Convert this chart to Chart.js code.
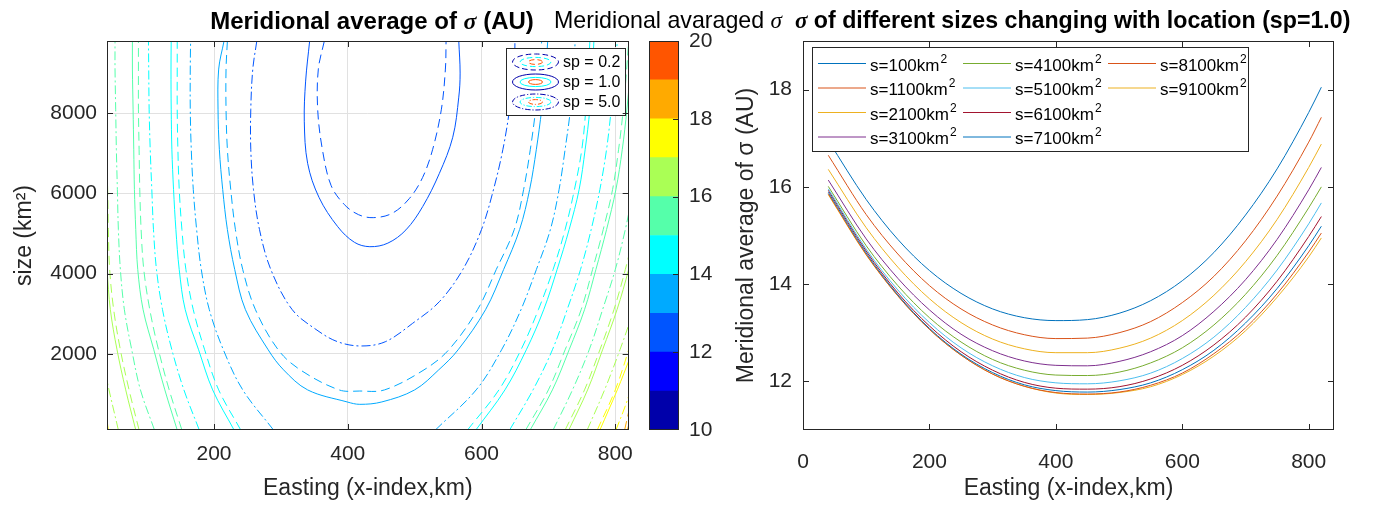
<!DOCTYPE html>
<html>
<head>
<meta charset="utf-8">
<script src="https://cdn.jsdelivr.net/npm/chart.js@4.4.0/dist/chart.umd.min.js"></script>
<style>
  html, body { margin: 0; padding: 0; background: #fff; }
  #wrap { position: relative; width: 1373px; height: 508px; overflow: hidden; font-family: "Liberation Sans", Arial, sans-serif; }
  canvas { position: absolute; top: 0; }
  .title { position: absolute; white-space: nowrap; color: #000; font-size: 24px; line-height: 1; z-index: 2; }
  .sig { font-family: "Liberation Serif", serif; font-style: italic; }
</style>
</head>
<body>
<div id="wrap">
  <canvas id="cLeft" width="645" height="508" style="left:0"></canvas>
  <canvas id="cBar" width="75" height="508" style="left:640px"></canvas>
  <canvas id="cRight" width="658" height="508" style="left:715px"></canvas>
  <div class="title" style="left:0; width:744px; text-align:center; top:9px; font-weight:bold;">Meridional average of <span class="sig">σ</span> (AU)</div>
  <div class="title" style="left:554px; top:9px; font-size:23.2px;">Meridional avaraged <span class="sig">σ</span>&nbsp; <b><span class="sig">σ</span> of different sizes changing with location (sp=1.0)</b></div>
</div>
<script>
// right panel: meridional average of sigma vs easting, sp = 1.0
const eastings = [40, 100, 150, 200, 250, 300, 350, 400, 450, 500, 550, 600, 650, 700, 750, 800, 820];
const sizes = [100, 1100, 2100, 3100, 4100, 5100, 6100, 7100, 8100, 9100];
const sigma100  = [16.95, 15.74, 14.92, 14.28, 13.81, 13.49, 13.31, 13.25, 13.27, 13.40, 13.66, 14.07, 14.65, 15.42, 16.37, 17.53, 18.05];
const sigma1100 = [16.65, 15.43, 14.62, 13.97, 13.49, 13.16, 12.96, 12.88, 12.89, 13.00, 13.23, 13.62, 14.16, 14.89, 15.81, 16.92, 17.43];
const sigma2100 = [16.36, 15.16, 14.35, 13.70, 13.21, 12.87, 12.67, 12.59, 12.59, 12.68, 12.89, 13.25, 13.77, 14.46, 15.33, 16.40, 16.88];
const sigma3100 = [16.14, 14.93, 14.12, 13.47, 12.97, 12.63, 12.42, 12.33, 12.32, 12.41, 12.61, 12.94, 13.44, 14.09, 14.92, 15.94, 16.40];
const sigma4100 = [16.01, 14.79, 13.97, 13.31, 12.81, 12.45, 12.23, 12.13, 12.12, 12.19, 12.38, 12.69, 13.16, 13.79, 14.59, 15.57, 16.00];
const sigma5100 = [15.96, 14.72, 13.88, 13.21, 12.69, 12.32, 12.08, 11.97, 11.95, 12.01, 12.17, 12.47, 12.91, 13.52, 14.29, 15.24, 15.67];
const sigma6100 = [15.93, 14.68, 13.82, 13.14, 12.61, 12.23, 11.98, 11.86, 11.84, 11.89, 12.05, 12.33, 12.75, 13.32, 14.06, 14.98, 15.39];
const sigma7100 = [15.89, 14.64, 13.78, 13.09, 12.56, 12.18, 11.93, 11.81, 11.78, 11.83, 11.97, 12.24, 12.64, 13.20, 13.91, 14.79, 15.19];
const sigma8100 = [15.86, 14.61, 13.76, 13.07, 12.54, 12.15, 11.90, 11.77, 11.74, 11.78, 11.92, 12.17, 12.57, 13.10, 13.80, 14.66, 15.05];
const sigma9100 = [15.84, 14.60, 13.76, 13.07, 12.54, 12.15, 11.90, 11.76, 11.73, 11.77, 11.89, 12.14, 12.52, 13.04, 13.73, 14.56, 14.95];
const seriesColors = ["#0072BD", "#D95319", "#EDB120", "#7E2F8E", "#77AC30", "#4DBEEE", "#A2142F", "#0072BD", "#D95319", "#EDB120"];

// left panel: contour lines [level, x0, y0, x1, y1, ...] (easting km, size km2)
const contourLevels = [12, 13, 14, 15, 16, 17, 18];
const levelColors = ["#0055ff", "#00aaff", "#00ffff", "#55ffaa", "#aaff55", "#ffff00", "#ffaa00"];
const sp02Lines = [
  [12, [365,9800, 356,9100, 355,8100, 362,7100, 375,6200, 395,5720, 416,5470, 438,5395, 466,5500, 492,5870, 512,6400, 527,7100, 540,8100, 546,9100, 547,9800]],
  [13, [220,9800, 218,9100, 218,8100, 220,7100, 225,6100, 232,5100, 243,4100, 262,3100, 296,2100, 329,1600, 387,1100, 418,1072, 455,1100, 514,1600, 551,2100, 594,3100, 622,4100, 649,5100, 663,6100, 673,7100, 681,8100, 687,9100, 690,9800]],
  [14, [240,100, 207,1100, 186,2100, 169,3100, 158,4100, 152,5100, 148,6100, 146,7100, 145,8100, 145,9100, 145,9800]],
  [14, [579,100, 626,1100, 659,2100, 685,3100, 707,4100, 725,5100, 739,6100, 750,7100, 756,8100, 760,9100, 762,9800]],
  [15, [152,100, 133,1100, 117,2100, 104,3100, 95,4100, 91,5100, 89,6100, 88,7100, 87,8100, 87,9100, 87,9800]],
  [15, [666,100, 700,1100, 725,2100, 749,3100, 766,4100, 782,5100, 796,6100, 805,7100, 812,8100, 817,9100, 820,9800]],
  [16, [88,100, 73,1100, 60,2100, 50,3100, 44,4100, 42,5100, 41,6100, 39,7000]],
  [16, [725,100, 754,1100, 777,2100, 798,3100, 815,4100, 828,5000]],
  [17, [42,100, 38,600]],
  [17, [773,100, 800,1100, 820,2100, 826,2500]],
  [18, [814,100, 822,700]]
];
const sp10Lines = [
  [12, [343,9800, 337,8800, 335,7800, 340,6750, 357,5900, 385,5170, 410,4780, 433,4671, 460,4760, 487,5090, 512,5670, 537,6500, 557,7400, 566,8400, 568,9000, 566,9800]],
  [13, [215,9800, 207,9100, 206,8100, 208,7100, 213,6100, 220,5100, 231,4100, 247,3100, 281,2100, 304,1600, 340,1100, 399,800, 418,740, 451,800, 500,1100, 536,1600, 565,2100, 606,3100, 633,4100, 657,5100, 672,6100, 682,7100, 690,8100, 696,9100, 699,9800]],
  [14, [230,100, 198,1100, 177,2100, 157,3100, 148,4100, 143,5100, 139.5,6100, 137,7100, 136,8100, 135.7,9100, 136,9800]],
  [14, [591.5,100, 635,1100, 667,2100, 693,3100, 713,4100, 731,5100, 746,6100, 755,7100, 762,8100, 766,9100, 768,9800]],
  [15, [145,100, 126.5,1100, 110,2100, 94,3100, 86,4100, 83,5100, 81,6100, 80,7100, 79,8100, 78,9100, 78,9800]],
  [15, [672.7,100, 706,1100, 731,2100, 754,3100, 771,4100, 787,5100, 801,6100, 810.5,7100, 817.4,8100, 822.6,9100, 825,9800]],
  [16, [83,100, 68,1100, 55,2100, 45,3100, 40,4100, 37,4700]],
  [16, [730.5,100, 758.6,1100, 781,2100, 802.6,3100, 820,4100, 830,4800]],
  [17, [777,100, 803,1100, 822,1900]],
  [18, [818,100, 823,400]]
];
const sp50Lines = [
  [12, [264,9800, 258,9100, 255,8100, 255,7100, 259,6100, 268,5100, 285,4100, 317,3100, 354,2590, 385,2300, 420,2195, 456,2300, 497,2760, 537,3300, 572,4100, 600,5100, 618,6100, 632,7100, 642,8100, 649,9100, 650,9800]],
  [13, [289,100, 243,1100, 214,2100, 193,3100, 181,4100, 174,5100, 169,6100, 166,7100, 164.5,8100, 164.5,9100, 165,9800]],
  [13, [531,100, 592,1100, 630,2100, 659,3100, 682,4100, 703,5100, 716,6100, 725,7100, 733,8100, 738,9100, 740,9800]],
  [14, [178,100, 155,1100, 137,2100, 123,3100, 114,4100, 109.5,5100, 107,6100, 104.6,7100, 103,8100, 102.4,9100, 102,9800]],
  [14, [642,100, 677,1100, 706,2100, 728,3100, 748,4100, 764,5100, 777,6100, 787,7100, 794,8100, 800,9100, 803,9800]],
  [15, [111,100, 90,1100, 77,2100, 66,3100, 60,4100, 57,5100, 55.5,6100, 54,7100, 53,8100, 52,9100, 52,9800]],
  [15, [707,100, 736,1100, 761,2100, 781,3100, 800,4100, 815,5100, 826,6000]],
  [16, [57,100, 43,1100, 38,1500]],
  [16, [758,100, 784,1100, 807,2100, 826,3000]],
  [17, [801,100, 815,700, 825,1200]]
];
const spLabels = ["sp = 0.2", "sp = 1.0", "sp = 5.0"];

// ticks and colorbar
const leftXTicks = [200, 400, 600, 800];
const leftYTicks = [2000, 4000, 6000, 8000];
const rightXTicks = [0, 200, 400, 600, 800];
const rightYTicks = [12, 14, 16, 18];
const colorbarLevels = [10, 11, 12, 13, 14, 15, 16, 17, 18, 19, 20];
const colorbarTicks = [10, 12, 14, 16, 18, 20];
const colorbarColors = ["#0000aa", "#0000ff", "#0055ff", "#00aaff", "#00ffff", "#55ffaa", "#aaff55", "#ffff00", "#ffaa00", "#ff5500"];

const FONT = "'Liberation Sans', Arial, sans-serif";
const INK = "#262626";
Chart.defaults.font.family = FONT;
Chart.defaults.color = INK;

const DASHED = [9, 5];
const DASHDOT = [9, 3, 2, 3];

function fixTicks(values) {
  return (scale) => { scale.ticks = values.map((v) => ({ value: v })); };
}
const plainLabel = (v) => String(v);

// box around the axes with inward tick marks
const framePlugin = {
  id: "frame",
  afterDraw(chart, args, opts) {
    const { ctx, chartArea: a } = chart;
    const len = 6;
    ctx.save();
    ctx.strokeStyle = INK;
    ctx.lineWidth = 1;
    ctx.strokeRect(Math.round(a.left) + 0.5, Math.round(a.top) + 0.5, Math.round(a.width) - 1, Math.round(a.height) - 1);
    ctx.beginPath();
    if (opts.x) {
      const sx = chart.scales.x;
      opts.x.forEach((v) => {
        const px = Math.round(sx.getPixelForValue(v)) + 0.5;
        ctx.moveTo(px, a.bottom); ctx.lineTo(px, a.bottom - len);
        ctx.moveTo(px, a.top); ctx.lineTo(px, a.top + len);
      });
    }
    if (opts.y) {
      const sy = chart.scales.y;
      opts.y.forEach((v) => {
        const py = Math.round(sy.getPixelForValue(v)) + 0.5;
        if (!opts.rightOnly) { ctx.moveTo(a.left, py); ctx.lineTo(a.left + len, py); }
        ctx.moveTo(a.right, py); ctx.lineTo(a.right - len, py);
      });
    }
    ctx.stroke();
    ctx.restore();
  }
};

// legend of the contour panel
const contourLegend = {
  id: "contourLegend",
  afterDatasetsDraw(chart) {
    const ctx = chart.ctx;
    ctx.save();
    ctx.fillStyle = "#fff";
    ctx.fillRect(506, 48, 119, 67);
    ctx.strokeStyle = INK;
    ctx.lineWidth = 1;
    ctx.strokeRect(506.5, 48.5, 119, 67);
    const dashes = [DASHED, [], DASHDOT];
    spLabels.forEach((label, i) => {
      const cy = 62 + i * 20;
      ctx.setLineDash(dashes[i].map((d) => d * 0.6));
      [[23, 8, "#0000aa"], [15.5, 4.6, "#00ffff"], [7, 2.4, "#ff5500"]].forEach(([rx, ry, c]) => {
        ctx.beginPath();
        ctx.strokeStyle = c;
        ctx.ellipse(535.5, cy, rx, ry, 0, 0, Math.PI * 2);
        ctx.stroke();
      });
      ctx.setLineDash([]);
      ctx.fillStyle = "#000";
      ctx.font = "16px " + FONT;
      ctx.textBaseline = "middle";
      ctx.fillText(label, 563, cy + 1);
    });
    ctx.restore();
  }
};

// legend of the line panel, 3 columns filled column by column
const lineLegend = {
  id: "lineLegend",
  afterDatasetsDraw(chart) {
    const ctx = chart.ctx;
    ctx.save();
    ctx.fillStyle = "#fff";
    ctx.fillRect(97, 47, 436, 104);
    ctx.strokeStyle = INK;
    ctx.lineWidth = 1;
    ctx.strokeRect(97.5, 47.5, 436, 104);
    ctx.textBaseline = "alphabetic";
    chart.data.datasets.forEach((ds, i) => {
      const col = Math.floor(i / 4), row = i % 4;
      const x0 = 103 + col * 145, y = 63.5 + row * 24.5;
      ctx.strokeStyle = ds.borderColor;
      ctx.beginPath();
      ctx.moveTo(x0, y); ctx.lineTo(x0 + 48, y);
      ctx.stroke();
      ctx.fillStyle = "#000";
      ctx.font = "17px " + FONT;
      ctx.fillText(ds.label, x0 + 52, y + 7);
      const w = ctx.measureText(ds.label).width;
      ctx.font = "12px " + FONT;
      ctx.fillText("2", x0 + 53 + w, y - 1);
    });
    ctx.restore();
  }
};

function contourSets(lines, dash) {
  return lines.map(([level, pts]) => {
    const data = [];
    for (let i = 0; i < pts.length; i += 2) data.push({ x: pts[i], y: pts[i + 1] });
    return {
      data,
      showLine: true,
      borderColor: levelColors[contourLevels.indexOf(level)],
      borderWidth: 1,
      borderDash: dash,
      pointRadius: 0,
      tension: 0.35,
      fill: false
    };
  });
}

const tickFont = { size: 21, family: FONT };
const labelFont = { size: 23, family: FONT };

new Chart(document.getElementById("cLeft"), {
  type: "scatter",
  data: {
    datasets: [
      ...contourSets(sp10Lines, []),
      ...contourSets(sp02Lines, DASHED),
      ...contourSets(sp50Lines, DASHDOT)
    ]
  },
  options: {
    responsive: false,
    animation: false,
    layout: { padding: { left: 0, top: 41, right: 8, bottom: 0 } },
    plugins: {
      legend: { display: false },
      tooltip: { enabled: false },
      frame: { x: leftXTicks, y: leftYTicks }
    },
    scales: {
      x: {
        type: "linear", min: 40, max: 820,
        afterBuildTicks: fixTicks(leftXTicks),
        afterFit: (s) => { s.height = 78; },
        grid: { color: "#e1e1e1", drawTicks: false },
        border: { display: false },
        ticks: { font: tickFont, padding: 12, maxRotation: 0, autoSkip: false, callback: plainLabel },
        title: { display: true, text: "Easting (x-index,km)", font: labelFont, padding: { top: 0, bottom: 6 } }
      },
      y: {
        type: "linear", min: 100, max: 9800,
        afterBuildTicks: fixTicks(leftYTicks),
        afterFit: (s) => { s.width = 107; },
        grid: { color: "#e1e1e1", drawTicks: false },
        border: { display: false },
        ticks: { font: tickFont, padding: 10, autoSkip: false, callback: plainLabel },
        title: { display: true, text: "size (km²)", font: labelFont, padding: { top: 11, bottom: 0 } }
      }
    }
  },
  plugins: [contourLegend, framePlugin]
});

new Chart(document.getElementById("cBar"), {
  type: "bar",
  data: {
    labels: [""],
    datasets: colorbarColors.map((c, i) => ({
      data: [[colorbarLevels[i], colorbarLevels[i + 1]]],
      backgroundColor: c,
      borderWidth: 0,
      grouped: false,
      barPercentage: 1,
      categoryPercentage: 1
    }))
  },
  options: {
    responsive: false,
    animation: false,
    layout: { padding: { left: 9, top: 41, right: 0, bottom: 78 } },
    plugins: {
      legend: { display: false },
      tooltip: { enabled: false },
      frame: { y: colorbarTicks.slice(1, -1), rightOnly: true }
    },
    scales: {
      x: { display: false },
      y: {
        position: "right", min: 10, max: 20,
        afterBuildTicks: fixTicks(colorbarTicks),
        afterFit: (s) => { s.width = 36; },
        grid: { display: false },
        border: { display: false },
        ticks: { font: tickFont, padding: 2, autoSkip: false, callback: plainLabel }
      }
    }
  },
  plugins: [framePlugin]
});

const sigmaSeries = [sigma100, sigma1100, sigma2100, sigma3100, sigma4100, sigma5100, sigma6100, sigma7100, sigma8100, sigma9100];

new Chart(document.getElementById("cRight"), {
  type: "scatter",
  data: {
    datasets: sigmaSeries.map((vals, i) => ({
      label: "s=" + sizes[i] + "km",
      data: vals.map((v, j) => ({ x: eastings[j], y: v })),
      showLine: true,
      borderColor: seriesColors[i],
      borderWidth: 1,
      pointRadius: 0,
      cubicInterpolationMode: "monotone",
      fill: false
    }))
  },
  options: {
    responsive: false,
    animation: false,
    layout: { padding: { left: 0, top: 41, right: 39, bottom: 0 } },
    plugins: {
      legend: { display: false },
      tooltip: { enabled: false },
      frame: { x: rightXTicks, y: rightYTicks }
    },
    scales: {
      x: {
        type: "linear", min: 0, max: 840,
        afterBuildTicks: fixTicks(rightXTicks),
        afterFit: (s) => { s.height = 78; },
        grid: { display: false },
        border: { display: false },
        ticks: { font: tickFont, padding: 12, maxRotation: 0, autoSkip: false, callback: plainLabel },
        title: { display: true, text: "Easting (x-index,km)", font: labelFont, padding: { top: 0, bottom: 6 } }
      },
      y: {
        type: "linear", min: 11, max: 19,
        afterBuildTicks: fixTicks(rightYTicks),
        afterFit: (s) => { s.width = 88; },
        grid: { display: false },
        border: { display: false },
        ticks: { font: tickFont, padding: 3, autoSkip: false, callback: plainLabel },
        title: { display: true, text: "Meridional average of σ (AU)", font: labelFont, padding: { top: 18, bottom: 0 } }
      }
    }
  },
  plugins: [lineLegend, framePlugin]
});
</script>
</body>
</html>
